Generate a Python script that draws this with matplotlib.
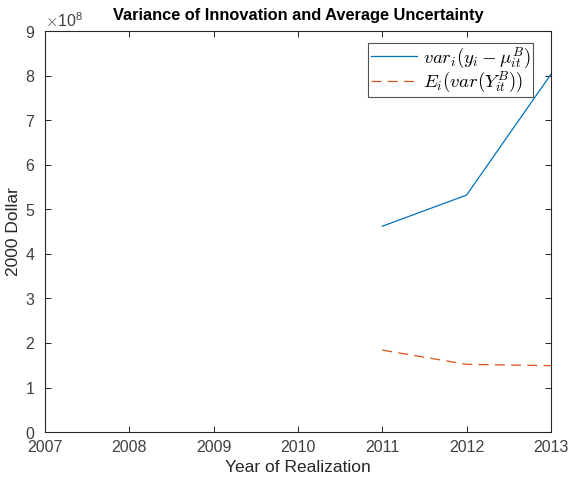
import matplotlib
matplotlib.use("Agg")
import matplotlib.pyplot as plt
from matplotlib.ticker import ScalarFormatter

plt.rcParams['font.family'] = ['Liberation Sans', 'DejaVu Sans']
plt.rcParams['mathtext.fontset'] = 'cm'

years = [2011, 2012, 2013]
var_innov = [4.62e8, 5.32e8, 8.03e8]
avg_uncert = [1.84e8, 1.52e8, 1.49e8]
xticks = [2007, 2008, 2009, 2010, 2011, 2012, 2013]
yticks = [i * 1e8 for i in range(10)]

fig = plt.figure(figsize=(5.71, 4.79), dpi=100)
ax = fig.add_axes([0.0788, 0.098, 0.886, 0.837])

ax.plot(years, var_innov, color='#0072BD', lw=0.9,
        label=r'$var_i(y_i-\mu_{it}^B)$')
ax.plot(years, avg_uncert, color='#D95319', lw=0.9, ls=(0, (8, 5)),
        label=r'$E_i(var(Y_{it}^B))$')

ax.set_xlim(2007, 2013)
ax.set_ylim(0, 9e8)
ax.set_xticks(xticks)
ax.set_yticks(yticks)
fmt = ScalarFormatter(useMathText=True)
fmt.set_powerlimits((0, 0))
ax.yaxis.set_major_formatter(fmt)
ax.yaxis.get_offset_text().set_fontsize(11.5)
ax.yaxis.get_offset_text().set_color('#404040')

ax.tick_params(direction='in', top=True, right=True, length=4, width=0.6,
               labelsize=11.5, labelcolor='#404040')
ax.tick_params(axis='x', pad=6)
ax.tick_params(axis='y', pad=7)
for s in ax.spines.values():
    s.set_linewidth(0.8)
    s.set_color('#262626')

ax.set_xlabel('Year of Realization', fontsize=12.5, color='#262626', labelpad=3)
ax.set_ylabel('2000 Dollar', fontsize=12.5, color='#262626', labelpad=3)
ax.set_title('Variance of Innovation and Average Uncertainty', fontsize=11.8,
             fontweight='bold', pad=8)

leg = ax.legend(loc='upper right', bbox_to_anchor=(0.9644, 0.970),
                fontsize=13.5, frameon=True, fancybox=False,
                edgecolor='#262626', borderpad=0.12, labelspacing=0.0,
                handlelength=2.5, handletextpad=0.3, borderaxespad=0.0)
leg.get_frame().set_linewidth(0.8)

fig.savefig('out.png', dpi=100)
